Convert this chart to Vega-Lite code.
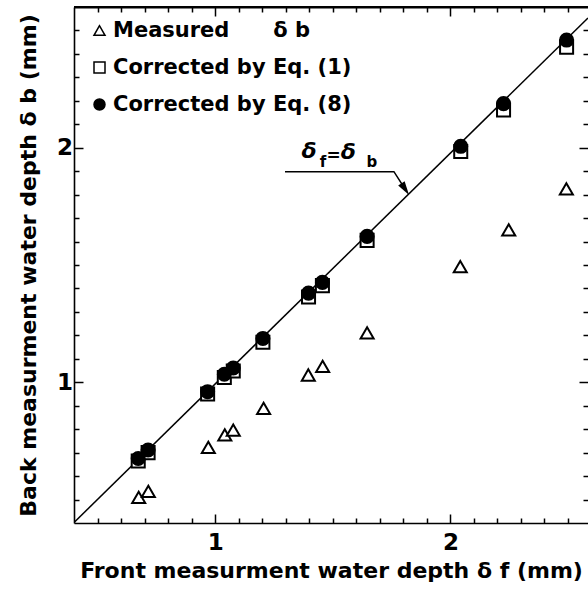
{
  "$schema": "https://vega.github.io/schema/vega-lite/v6.json",
  "width": 514,
  "height": 516,
  "autosize": {"type": "none"},
  "padding": {"left": 74, "top": 7, "right": 0, "bottom": 68},
  "background": "white",
  "config": {
    "view": {"stroke": null},
    "font": "DejaVu Sans",
    "axis": {
      "grid": false,
      "domainColor": "black",
      "domainWidth": 1.6,
      "tickColor": "black",
      "tickWidth": 1.5,
      "labelColor": "black",
      "labelFont": "DejaVu Sans",
      "labelFontSize": 23,
      "labelFontWeight": "bold",
      "titleColor": "black",
      "titleFont": "DejaVu Sans",
      "titleFontSize": 22,
      "titleFontWeight": "bold",
      "labelOverlap": false,
      "labelFlush": false,
      "labelBound": false
    },
    "legend": {
      "orient": "none",
      "legendX": 15,
      "legendY": 13,
      "symbolSize": 121,
      "symbolStrokeWidth": 1.5,
      "symbolStrokeColor": "black",
      "symbolOpacity": 1,
      "labelFont": "DejaVu Sans",
      "labelFontWeight": "bold",
      "labelFontSize": 21,
      "labelColor": "black",
      "labelOffset": 3,
      "rowPadding": 15,
      "padding": 0,
      "labelLimit": 400
    }
  },
  "datasets": {
    "pts": [
      {"x": 0.675, "y": 0.509, "series": "Measured\u00a0\u00a0\u00a0\u00a0\u00a0\u00a0δ b"},
      {"x": 0.716, "y": 0.535, "series": "Measured\u00a0\u00a0\u00a0\u00a0\u00a0\u00a0δ b"},
      {"x": 0.971, "y": 0.722, "series": "Measured\u00a0\u00a0\u00a0\u00a0\u00a0\u00a0δ b"},
      {"x": 1.041, "y": 0.776, "series": "Measured\u00a0\u00a0\u00a0\u00a0\u00a0\u00a0δ b"},
      {"x": 1.077, "y": 0.796, "series": "Measured\u00a0\u00a0\u00a0\u00a0\u00a0\u00a0δ b"},
      {"x": 1.206, "y": 0.889, "series": "Measured\u00a0\u00a0\u00a0\u00a0\u00a0\u00a0δ b"},
      {"x": 1.396, "y": 1.031, "series": "Measured\u00a0\u00a0\u00a0\u00a0\u00a0\u00a0δ b"},
      {"x": 1.457, "y": 1.068, "series": "Measured\u00a0\u00a0\u00a0\u00a0\u00a0\u00a0δ b"},
      {"x": 1.646, "y": 1.211, "series": "Measured\u00a0\u00a0\u00a0\u00a0\u00a0\u00a0δ b"},
      {"x": 2.042, "y": 1.493, "series": "Measured\u00a0\u00a0\u00a0\u00a0\u00a0\u00a0δ b"},
      {"x": 2.248, "y": 1.650, "series": "Measured\u00a0\u00a0\u00a0\u00a0\u00a0\u00a0δ b"},
      {"x": 2.493, "y": 1.825, "series": "Measured\u00a0\u00a0\u00a0\u00a0\u00a0\u00a0δ b"},
      {"x": 0.673, "y": 0.664, "series": "Corrected by Eq. (1)"},
      {"x": 0.715, "y": 0.700, "series": "Corrected by Eq. (1)"},
      {"x": 0.968, "y": 0.950, "series": "Corrected by Eq. (1)"},
      {"x": 1.039, "y": 1.020, "series": "Corrected by Eq. (1)"},
      {"x": 1.077, "y": 1.048, "series": "Corrected by Eq. (1)"},
      {"x": 1.203, "y": 1.171, "series": "Corrected by Eq. (1)"},
      {"x": 1.397, "y": 1.364, "series": "Corrected by Eq. (1)"},
      {"x": 1.456, "y": 1.412, "series": "Corrected by Eq. (1)"},
      {"x": 1.646, "y": 1.605, "series": "Corrected by Eq. (1)"},
      {"x": 2.044, "y": 1.984, "series": "Corrected by Eq. (1)"},
      {"x": 2.226, "y": 2.161, "series": "Corrected by Eq. (1)"},
      {"x": 2.494, "y": 2.429, "series": "Corrected by Eq. (1)"},
      {"x": 0.673, "y": 0.675, "series": "Corrected by Eq. (8)"},
      {"x": 0.715, "y": 0.711, "series": "Corrected by Eq. (8)"},
      {"x": 0.968, "y": 0.960, "series": "Corrected by Eq. (8)"},
      {"x": 1.039, "y": 1.034, "series": "Corrected by Eq. (8)"},
      {"x": 1.077, "y": 1.061, "series": "Corrected by Eq. (8)"},
      {"x": 1.203, "y": 1.187, "series": "Corrected by Eq. (8)"},
      {"x": 1.397, "y": 1.380, "series": "Corrected by Eq. (8)"},
      {"x": 1.456, "y": 1.426, "series": "Corrected by Eq. (8)"},
      {"x": 1.646, "y": 1.622, "series": "Corrected by Eq. (8)"},
      {"x": 2.044, "y": 2.006, "series": "Corrected by Eq. (8)"},
      {"x": 2.226, "y": 2.188, "series": "Corrected by Eq. (8)"},
      {"x": 2.494, "y": 2.459, "series": "Corrected by Eq. (8)"}
    ],
    "diag": [
      {"x": 0.4, "y": 0.402},
      {"x": 2.585, "y": 2.553}
    ],
    "frameTop": [
      {"y": 2.6}
    ],
    "leader": [
      {"x": 1.297, "y": 1.898, "o": 1},
      {"x": 1.760, "y": 1.898, "o": 2},
      {"x": 1.808, "y": 1.823, "o": 3}
    ],
    "arrow": [
      {"x": 1.808, "y": 1.823}
    ],
    "annDelta": [
      {"x": 1.367, "y": 1.956, "t": "δ"},
      {"x": 1.534, "y": 1.952, "t": "δ"}
    ],
    "annSub": [
      {"x": 1.445, "y": 1.918, "t": "f"},
      {"x": 1.643, "y": 1.918, "t": "b"}
    ],
    "annEq": [
      {"x": 1.473, "y": 1.943, "t": "="}
    ]
  },
  "layer": [
    {
      "data": {"name": "diag"},
      "mark": {"type": "line", "color": "black", "strokeWidth": 1.5, "clip": true},
      "encoding": {
        "x": {"field": "x", "type": "quantitative",
          "scale": {"domain": [0.4, 2.585], "nice": false, "zero": false},
          "axis": {"orient": "top", "values": [0.5,0.6,0.7,0.8,0.9,1,1.1,1.2,1.3,1.4,1.5,1.6,1.7,1.8,1.9,2,2.1,2.2,2.3,2.4,2.5],
            "tickSize": {"condition": {"test": "datum.value === 1 || datum.value === 2", "value": -9}, "value": -5},
            "labels": false, "title": null, "domain": true, "domainWidth": 2}},
        "y": {"field": "y", "type": "quantitative",
          "scale": {"domain": [0.4, 2.6], "nice": false, "zero": false},
          "axis": {"orient": "right", "values": [0.5,0.6,0.7,0.8,0.9,1,1.1,1.2,1.3,1.4,1.5,1.6,1.7,1.8,1.9,2,2.1,2.2,2.3,2.4,2.5],
            "tickSize": {"condition": {"test": "datum.value === 1 || datum.value === 2", "value": -9}, "value": -5},
            "labels": false, "title": null, "domain": false}}
      }
    },
    {
      "data": {"name": "frameTop"},
      "mark": {"type": "rule", "color": "black", "strokeWidth": 2},
      "encoding": {
        "y": {"field": "y", "type": "quantitative", "scale": {"domain": [0.4, 2.6], "nice": false, "zero": false}, "axis": null}
      }
    },
    {
      "data": {"name": "pts"},
      "mark": {"type": "point", "filled": true, "strokeWidth": 2, "opacity": 1, "size": 170},
      "encoding": {
        "x": {"field": "x", "type": "quantitative",
          "scale": {"domain": [0.4, 2.585], "nice": false, "zero": false},
          "axis": {"orient": "bottom", "values": [0.5,0.6,0.7,0.8,0.9,1,1.1,1.2,1.3,1.4,1.5,1.6,1.7,1.8,1.9,2,2.1,2.2,2.3,2.4,2.5],
            "tickSize": {"condition": {"test": "datum.value === 1 || datum.value === 2", "value": -9}, "value": -5},
            "labelExpr": "datum.value === 1 ? '1' : datum.value === 2 ? '2' : ''",
            "labelPadding": 17,
            "title": "Front measurment water depth δ f (mm)",
            "titlePadding": 2}},
        "y": {"field": "y", "type": "quantitative",
          "scale": {"domain": [0.4, 2.6], "nice": false, "zero": false},
          "axis": {"orient": "left", "values": [0.5,0.6,0.7,0.8,0.9,1,1.1,1.2,1.3,1.4,1.5,1.6,1.7,1.8,1.9,2,2.1,2.2,2.3,2.4,2.5],
            "tickSize": {"condition": {"test": "datum.value === 1 || datum.value === 2", "value": -9}, "value": -5},
            "labelExpr": "datum.value === 1 ? '1' : datum.value === 2 ? '2' : ''",
            "labelPadding": 10.5,
            "title": "Back measurment water depth δ b (mm)",
            "titlePadding": 16}},
        "shape": {"field": "series", "type": "nominal",
          "scale": {"domain": ["Measured\u00a0\u00a0\u00a0\u00a0\u00a0\u00a0δ b", "Corrected by Eq. (1)", "Corrected by Eq. (8)"], "range": ["triangle-up", "square", "circle"]},
          "legend": {"title": null}},
        "fill": {"field": "series", "type": "nominal",
          "scale": {"domain": ["Measured\u00a0\u00a0\u00a0\u00a0\u00a0\u00a0δ b", "Corrected by Eq. (1)", "Corrected by Eq. (8)"], "range": ["white", "white", "black"]},
          "legend": {"title": null}},
        "stroke": {"field": "series", "type": "nominal",
          "scale": {"domain": ["Measured\u00a0\u00a0\u00a0\u00a0\u00a0\u00a0δ b", "Corrected by Eq. (1)", "Corrected by Eq. (8)"], "range": ["black", "black", "black"]},
          "legend": {"title": null}}
      }
    },
    {
      "data": {"name": "leader"},
      "mark": {"type": "line", "color": "black", "strokeWidth": 1.5},
      "encoding": {
        "x": {"field": "x", "type": "quantitative", "scale": {"domain": [0.4, 2.585], "nice": false, "zero": false}, "axis": null},
        "y": {"field": "y", "type": "quantitative", "scale": {"domain": [0.4, 2.6], "nice": false, "zero": false}, "axis": null},
        "order": {"field": "o", "type": "quantitative"}
      }
    },
    {
      "data": {"name": "arrow"},
      "mark": {"type": "point", "shape": "M0,1L-0.55,-1L0.55,-1Z", "size": 196, "angle": 327, "filled": true, "color": "black", "opacity": 1, "strokeWidth": 0},
      "encoding": {
        "x": {"field": "x", "type": "quantitative", "scale": {"domain": [0.4, 2.585], "nice": false, "zero": false}, "axis": null},
        "y": {"field": "y", "type": "quantitative", "scale": {"domain": [0.4, 2.6], "nice": false, "zero": false}, "axis": null}
      }
    },
    {
      "data": {"name": "annDelta"},
      "mark": {"type": "text", "font": "DejaVu Sans", "fontSize": 22, "fontStyle": "italic", "fontWeight": "bold", "align": "left", "baseline": "alphabetic", "color": "black"},
      "encoding": {
        "x": {"field": "x", "type": "quantitative", "scale": {"domain": [0.4, 2.585], "nice": false, "zero": false}, "axis": null},
        "y": {"field": "y", "type": "quantitative", "scale": {"domain": [0.4, 2.6], "nice": false, "zero": false}, "axis": null},
        "text": {"field": "t", "type": "nominal"}
      }
    },
    {
      "data": {"name": "annSub"},
      "mark": {"type": "text", "font": "DejaVu Sans", "fontSize": 15, "fontWeight": "bold", "align": "left", "baseline": "alphabetic", "color": "black"},
      "encoding": {
        "x": {"field": "x", "type": "quantitative", "scale": {"domain": [0.4, 2.585], "nice": false, "zero": false}, "axis": null},
        "y": {"field": "y", "type": "quantitative", "scale": {"domain": [0.4, 2.6], "nice": false, "zero": false}, "axis": null},
        "text": {"field": "t", "type": "nominal"}
      }
    },
    {
      "data": {"name": "annEq"},
      "mark": {"type": "text", "font": "DejaVu Sans", "fontSize": 17, "fontWeight": "bold", "align": "left", "baseline": "alphabetic", "color": "black"},
      "encoding": {
        "x": {"field": "x", "type": "quantitative", "scale": {"domain": [0.4, 2.585], "nice": false, "zero": false}, "axis": null},
        "y": {"field": "y", "type": "quantitative", "scale": {"domain": [0.4, 2.6], "nice": false, "zero": false}, "axis": null},
        "text": {"field": "t", "type": "nominal"}
      }
    }
  ],
  "resolve": {"axis": {"x": "independent", "y": "independent"}}
}
